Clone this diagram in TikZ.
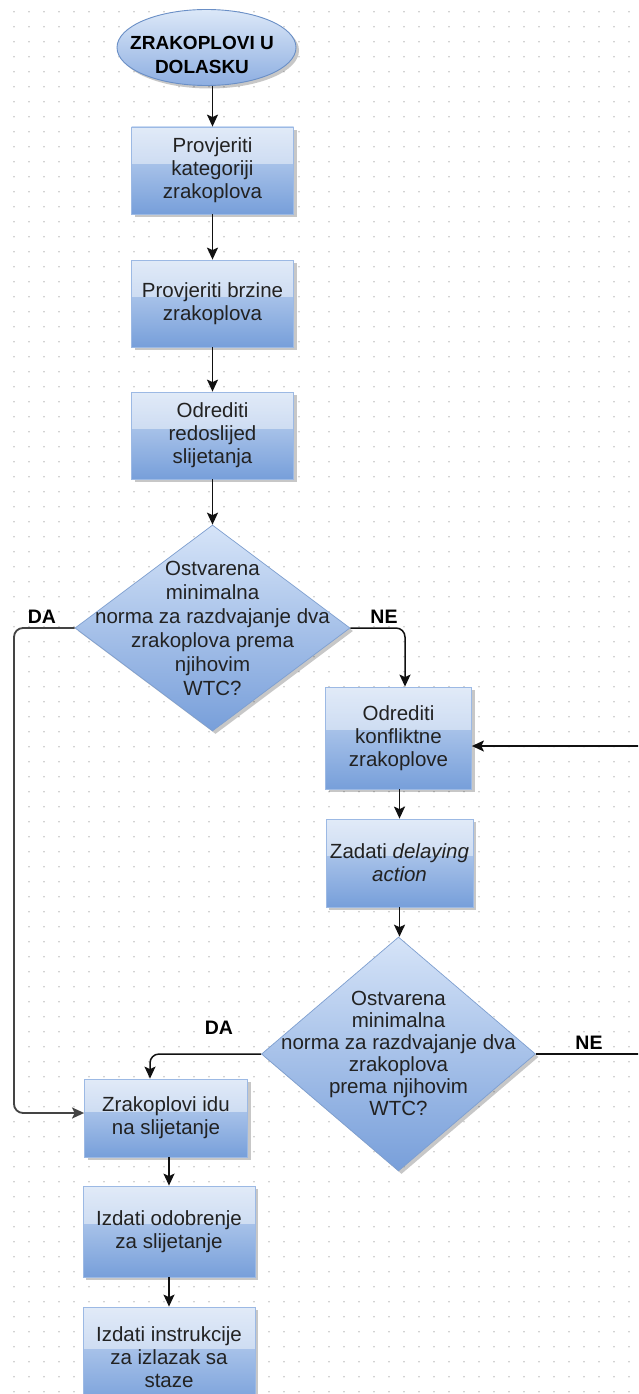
\documentclass[tikz,border=0pt]{standalone}
\usepackage{fontspec}
\setmainfont{Liberation Sans}
\usetikzlibrary{shapes.geometric,shadows,arrows.meta,calc}
\definecolor{txt}{HTML}{222222}
\definecolor{bxborder}{HTML}{9CB9E4}
\definecolor{bxtop}{HTML}{C9DAF3}
\definecolor{bxbot}{HTML}{779FDA}
\definecolor{dmtop}{HTML}{D6E4F8}
\definecolor{dmbot}{HTML}{789FDA}
\definecolor{dmborder}{HTML}{7E9FD0}
\definecolor{eltop}{HTML}{DCE8F8}
\definecolor{elbot}{HTML}{8DAEE1}
\definecolor{elborder}{HTML}{6A8FC6}
\definecolor{dotc}{HTML}{C4C4C4}
\definecolor{conn}{HTML}{111111}
\definecolor{connB}{HTML}{444444}
\begin{document}
\begin{tikzpicture}[x=1pt,y=-1pt,
  shad/.style={drop shadow={shadow xshift=3pt, shadow yshift=-3pt, fill=black, opacity=0.22}},
  boxnode/.style={rectangle, draw=bxborder, line width=0.8pt, top color=bxtop, bottom color=bxbot, shad,
    font=\fontsize{20.5}{23}\selectfont, text=txt, align=center, inner sep=0pt,
    path picture={\fill[white,opacity=0.45] (path picture bounding box.north west) rectangle ($(path picture bounding box.north east)!0.42!(path picture bounding box.south east)$);}},
  decnode/.style={diamond, draw=dmborder, line width=0.7pt, top color=dmtop, bottom color=dmbot, shad, inner sep=0pt},
  dectext/.style={font=\fontsize{20.5}{#1}\selectfont, text=txt, align=center, inner sep=0pt},
  lbl/.style={font=\bfseries\fontsize{19.5}{22}\selectfont, text=black, inner sep=0pt},
  arr/.style={draw=conn, line width=1.5pt, -{Stealth[length=12pt,width=11pt,inset=2.5pt]}},
  plain/.style={draw=conn, line width=1.5pt}]
\useasboundingbox (0,0) rectangle (638,1394);
\clip (0,0) rectangle (638,1394);
\fill[white] (0,0) rectangle (638,1394);
\foreach \i in {0,...,42}{\foreach \j in {0,...,93}{\fill[dotc] (14+15*\i,11.7+15*\j) circle[radius=0.85pt];}}

% start ellipse
\node[ellipse, draw=elborder, line width=0.9pt, top color=eltop, bottom color=elbot, minimum width=179pt, minimum height=76pt, inner sep=0pt, shad] (start) at (206.5,47.5) {};
\node[font=\bfseries\fontsize{19}{23.5}\selectfont, text=black, align=center, inner sep=0pt] (startt) at (202,55) {ZRAKOPLOVI U\\DOLASKU};

% column 1
\node[boxnode, minimum width=162pt, minimum height=87pt] (b1) at (212.5,170.5) {Provjeriti\\kategoriji\\zrakoplova};
\node[boxnode, minimum width=162pt, minimum height=87pt] (b2) at (212.5,303.5) {Provjeriti brzine\\zrakoplova};
\node[boxnode, minimum width=162pt, minimum height=87pt] (b3) at (212.5,435.5) {Odrediti\\redoslijed\\slijetanja};
\node[decnode, minimum width=275pt, minimum height=206pt] (d1) at (212.5,628) {};
\node[dectext=24] (d1t) at (212.5,628) {Ostvarena\\minimalna\\norma za razdvajanje dva\\zrakoplova prema\\njihovim\\WTC?};

% column 2
\node[boxnode, minimum width=146pt, minimum height=102pt] (b4) at (398.5,738) {Odrediti\\konfliktne\\zrakoplove};
\node[boxnode, minimum width=147pt, minimum height=88pt] (b5) at (399.5,863) {Zadati \textit{delaying}\\\textit{action}};
\node[decnode, minimum width=274pt, minimum height=234pt] (d2) at (398.5,1054) {};
\node[dectext=22] (d2t) at (398.5,1053) {Ostvarena\\minimalna\\norma za razdvajanje dva\\zrakoplova\\prema njihovim\\WTC?};

% column 3
\node[boxnode, minimum width=163pt, minimum height=78pt] (b6) at (166,1118) {Zrakoplovi idu\\na slijetanje};
\node[boxnode, minimum width=172pt, minimum height=91pt] (b7) at (169,1231.5) {Izdati odobrenje\\za slijetanje};
\node[boxnode, minimum width=172pt, minimum height=100pt] (b8) at (169,1357) {Izdati instrukcije\\za izlazak sa\\staze};

% labels
\node[lbl] (la1) at (42,617) {DA};
\node[lbl] (ln1) at (384,617) {NE};
\node[lbl] (la2) at (219,1028) {DA};
\node[lbl] (ln2) at (589,1043) {NE};

% coordinates
\coordinate (daA) at (14,628);
\coordinate (daB) at (14,1113);
\coordinate (neA) at (405,628);
\coordinate (rin) at (640,746);
\coordinate (da2A) at (150,1054);
\coordinate (rout) at (640,1054);

% connectors
\draw[arr] (start.south -| b1.north) -- (b1.north);
\draw[arr] (b1.south) -- (b2.north);
\draw[arr] (b2.south) -- (b3.north);
\draw[arr] (b3.south) -- (d1.north);
\draw[arr, draw=connB, line width=1.8pt, rounded corners=9pt] (d1.west) -- (daA) -- (daB) -- (daB -| b6.west);
\draw[arr, rounded corners=9pt] (d1.east) -- (neA) -- (neA |- b4.north);
\draw[arr] (rin) -- (rin -| b4.east);
\draw[arr] (b4.south -| b5.north) -- (b5.north);
\draw[arr] (b5.south) -- (b5.south |- d2.north);
\draw[arr, rounded corners=9pt] (d2.west) -- (da2A) -- (da2A |- b6.north);
\draw[plain] (d2.east) -- (rout);
\draw[arr] (b6.south -| b7.north) -- (b7.north);
\draw[arr] (b7.south) -- (b8.north);
\end{tikzpicture}
\end{document}
